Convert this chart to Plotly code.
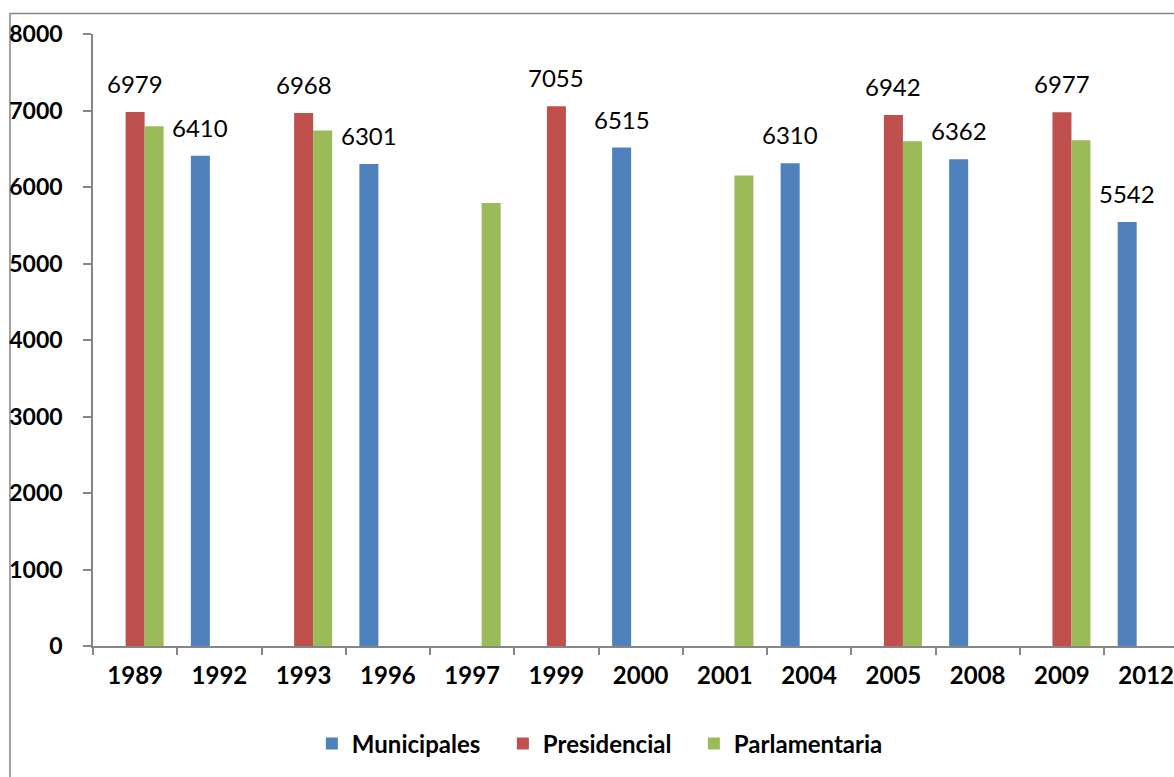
import plotly.graph_objects as go

# Election years on the category axis
years = ["1989", "1992", "1993", "1996", "1997", "1999", "2000",
         "2001", "2004", "2005", "2008", "2009", "2012"]

# Values per election type (None where no election of that type took place)
municipales = [None, 6410, None, 6301, None, None, 6515,
               None, 6310, None, 6362, None, 5542]
presidencial = [6979, None, 6968, None, None, 7055, None,
                None, None, 6942, None, 6977, None]
parlamentaria = [6795, None, 6737, None, 5792, None, None,
                 6149, None, 6597, None, 6610, None]

series_names = ["Municipales", "Presidencial", "Parlamentaria"]
series_values = [municipales, presidencial, parlamentaria]
series_colors = ["#4F81BD", "#C0504D", "#9BBB59"]
labelled = [True, True, False]

BARGAP = 0.323
FONT = "Lato"

fig = go.Figure()
for name, vals, col in zip(series_names, series_values, series_colors):
    fig.add_trace(go.Bar(
        x=years, y=vals, name=name,
        marker=dict(color=col, line=dict(width=0)),
    ))

# Value labels above the bars, placed at each bar's slot within its group
n = len(series_names)
slot_w = (1 - BARGAP) / n
annotations = []
for k, (vals, show) in enumerate(zip(series_values, labelled)):
    if not show:
        continue
    offset = (k - (n - 1) / 2) * slot_w
    for i, v in enumerate(vals):
        if v is None:
            continue
        annotations.append(dict(
            x=i + offset, y=v, xref="x", yref="y",
            text=str(v), showarrow=False, yanchor="bottom",
            yshift=12, font=dict(family=FONT, size=24, color="#000000"),
        ))

axis_col = "#868686"
fig.update_layout(
    width=1174, height=777,
    margin=dict(l=93, r=0, t=34, b=131),
    paper_bgcolor="white", plot_bgcolor="white",
    barmode="group", bargap=BARGAP, bargroupgap=0,
    font=dict(family=FONT, color="#000000"),
    xaxis=dict(
        type="category", range=[-0.5, 12.33],
        showline=True, linecolor=axis_col, linewidth=1.5,
        ticks="outside", tickson="boundaries", ticklen=7,
        tickcolor=axis_col, tickwidth=1.5,
        tickfont=dict(family=FONT, size=24, color="#000000", weight="bold"),
        ticklabelstandoff=7,
        showgrid=False, zeroline=False,
    ),
    yaxis=dict(
        range=[0, 8000], tickvals=[0, 1000, 2000, 3000, 4000, 5000, 6000, 7000, 8000],
        showline=True, linecolor=axis_col, linewidth=1.5,
        ticks="outside", ticklen=8, tickcolor=axis_col, tickwidth=1.5,
        tickfont=dict(family=FONT, size=23, color="#000000", weight="bold"),
        ticklabelstandoff=16,
        showgrid=False, zeroline=False,
    ),
    legend=dict(
        orientation="h", x=0.4675, xanchor="center", y=-0.16, yanchor="middle",
        font=dict(family=FONT, size=24, color="#000000", weight="bold"),
        itemwidth=30, entrywidth=146,
    ),
    annotations=annotations,
    shapes=[dict(
        type="rect", xref="paper", yref="paper",
        x0=-0.0768, x1=1.01, y0=-0.25, y1=1.0335,
        line=dict(color=axis_col, width=1.5), fillcolor="rgba(0,0,0,0)",
        layer="below",
    )],
)

fig.write_html("out.html")
